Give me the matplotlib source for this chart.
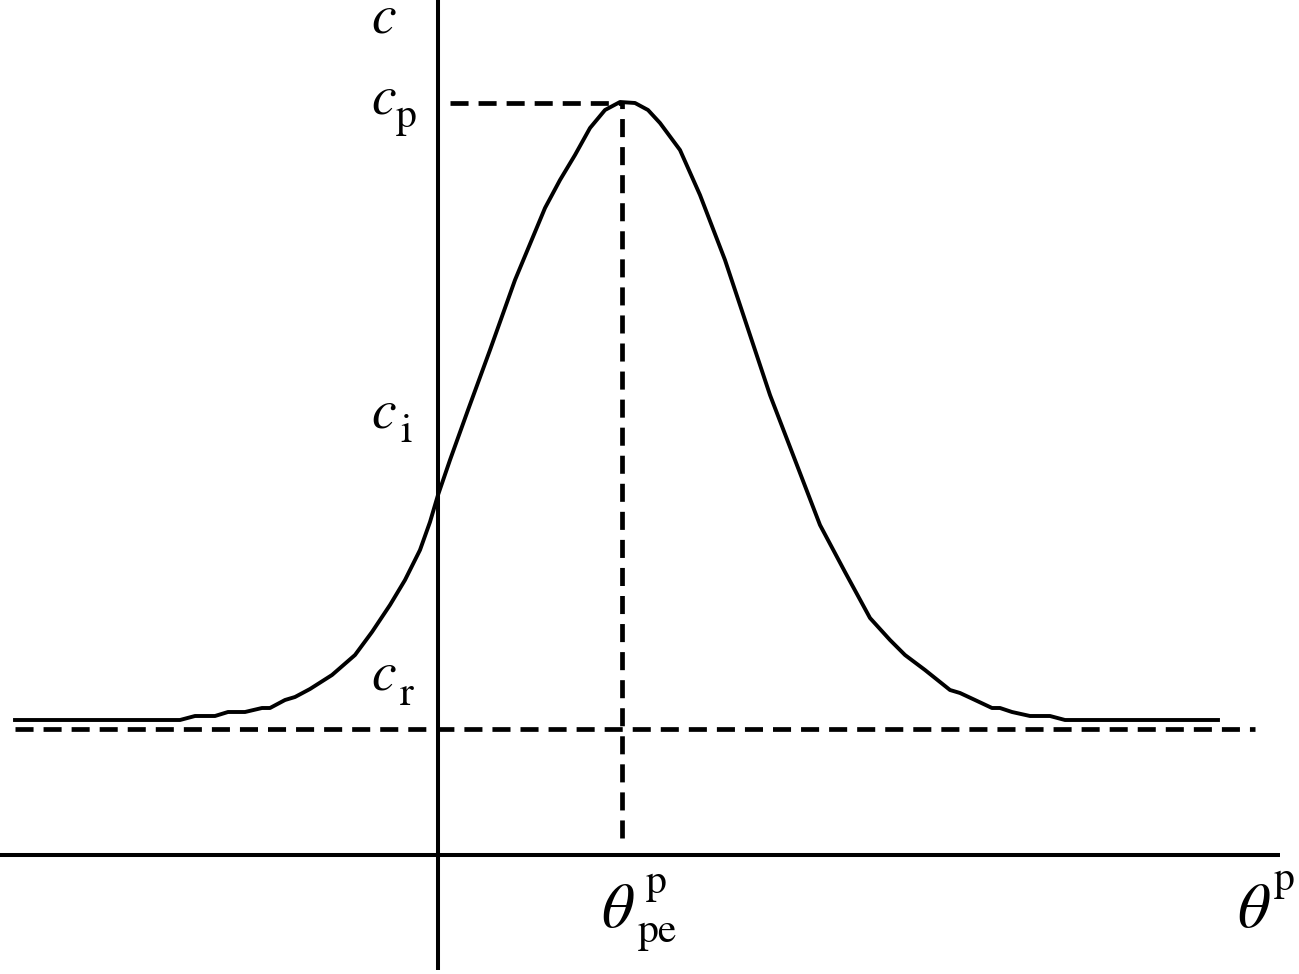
import matplotlib.pyplot as plt
import numpy as np

plt.rcParams['mathtext.fontset'] = 'stix'
plt.rcParams['font.family'] = 'STIXGeneral'
plt.rcParams['lines.scale_dashes'] = False

# curve c(theta^p), axis origin at the crossing of the two axes
theta = [-4.23, -2.58, -2.43, -2.23, -2.10, -1.93, -1.76, -1.68, -1.53, -1.43,
         -1.28, -1.06, -0.83, -0.66, -0.48, -0.33, -0.18, -0.08, 0.00, 0.12,
         0.30, 0.52, 0.77, 1.07, 1.22, 1.37, 1.52, 1.67, 1.82, 1.97,
         2.10, 2.22, 2.42, 2.62, 2.87, 3.07, 3.32, 3.57, 3.82, 4.07,
         4.32, 4.52, 4.67, 4.87, 4.97, 5.12, 5.22, 5.37, 5.54, 5.62,
         5.74, 5.92, 6.12, 6.27, 7.80]
conc = [1.35, 1.35, 1.39, 1.39, 1.43, 1.43, 1.47, 1.47, 1.55, 1.58,
        1.66, 1.80, 2.00, 2.23, 2.50, 2.75, 3.05, 3.33, 3.60, 3.95,
        4.45, 5.05, 5.75, 6.47, 6.75, 7.00, 7.27, 7.45, 7.53, 7.52,
        7.45, 7.32, 7.05, 6.60, 5.95, 5.35, 4.60, 3.95, 3.30, 2.83,
        2.37, 2.15, 2.00, 1.85, 1.77, 1.65, 1.62, 1.55, 1.47, 1.47,
        1.43, 1.39, 1.39, 1.35, 1.35]

c_r = 1.26
c_p = 7.52
theta_pe = 1.84

fig = plt.figure(figsize=(12.99, 9.74), dpi=100)
ax = fig.add_axes([0, 0, 1, 1])
ax.set_xlim(-4.38, 8.61)
ax.set_ylim(-1.19, 8.55)
ax.axis('off')

# axes
ax.plot([0, 0], [-1.15, 8.55], color='black', lw=2.9, solid_capstyle='butt')
ax.plot([-4.38, 8.42], [0, 0], color='black', lw=2.9, solid_capstyle='butt')

# curve
ax.plot(theta, conc, color='black', lw=2.8)

# dashed guides
dash = dict(color='black', lw=3.4, dashes=(13, 7.2))
ax.plot([theta[0], 8.17], [c_r, c_r], **dash)
ax.plot([theta_pe, theta_pe], [0.17, c_p], **dash)
ax.plot([0.12, theta_pe], [c_p, c_p], **dash)


def label(x, y, main, fs, parts):
    ax.text(x, y, main, fontsize=fs, ha='left', va='baseline')
    for txt, dx, dy, sfs in parts:
        ax.annotate(txt, xy=(x, y), xytext=(dx * 0.72, dy * 0.72),
                    textcoords='offset points', fontsize=sfs,
                    ha='left', va='baseline')


cfs, sfs = 40, 30
label(-0.67, 8.22, r'$c$', cfs, [])
label(-0.67, 7.42, r'$c$', cfs, [('p', 25, -14, sfs)])
label(-0.67, 4.27, r'$c$', cfs, [('i', 29, -14, sfs)])
label(-0.67, 1.65, r'$c$', cfs, [('r', 29, -15, sfs)])
label(1.63, -0.72, r'$\theta$', 46, [('p', 45, 34, sfs), ('pe', 37, -15, sfs)])
label(7.99, -0.72, r'$\theta$', 46, [('p', 37, 37, sfs)])

fig.savefig('out.png', dpi=100)
